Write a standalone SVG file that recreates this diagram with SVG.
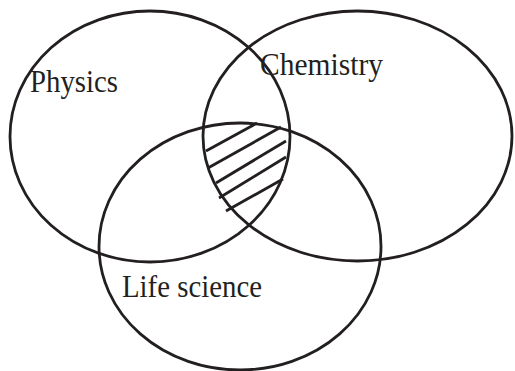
<svg xmlns="http://www.w3.org/2000/svg" width="515" height="371" viewBox="0 0 515 371">
<style>
.set{fill:none;stroke:#231f20;stroke-width:2.8}
.hatch{stroke:#231f20;stroke-width:2.8;stroke-linecap:butt}
.lbl{font-family:"Liberation Serif","Times New Roman",serif;font-size:31px;fill:#231f20}
</style>
<rect width="515" height="371" fill="#ffffff"/>
<g id="physics">
<ellipse class="set" cx="150" cy="136.5" rx="140" ry="125.5"/>
<text class="lbl" x="30" y="92" textLength="88" lengthAdjust="spacingAndGlyphs">Physics</text>
</g>
<g id="chemistry">
<ellipse class="set" cx="357.5" cy="136" rx="154.5" ry="125"/>
<text class="lbl" x="260" y="75" textLength="123" lengthAdjust="spacingAndGlyphs">Chemistry</text>
</g>
<g id="life-science">
<ellipse class="set" cx="240" cy="246.5" rx="141" ry="123.5"/>
<text class="lbl" x="122" y="297" textLength="140" lengthAdjust="spacingAndGlyphs">Life science</text>
</g>
<g id="hatching">
<line class="hatch" x1="206" y1="151" x2="257" y2="123"/>
<line class="hatch" x1="208" y1="168" x2="281" y2="127"/>
<line class="hatch" x1="216" y1="183" x2="286" y2="141"/>
<line class="hatch" x1="219" y1="198" x2="286" y2="157"/>
<line class="hatch" x1="226" y1="211" x2="283" y2="179"/>
</g>
</svg>
